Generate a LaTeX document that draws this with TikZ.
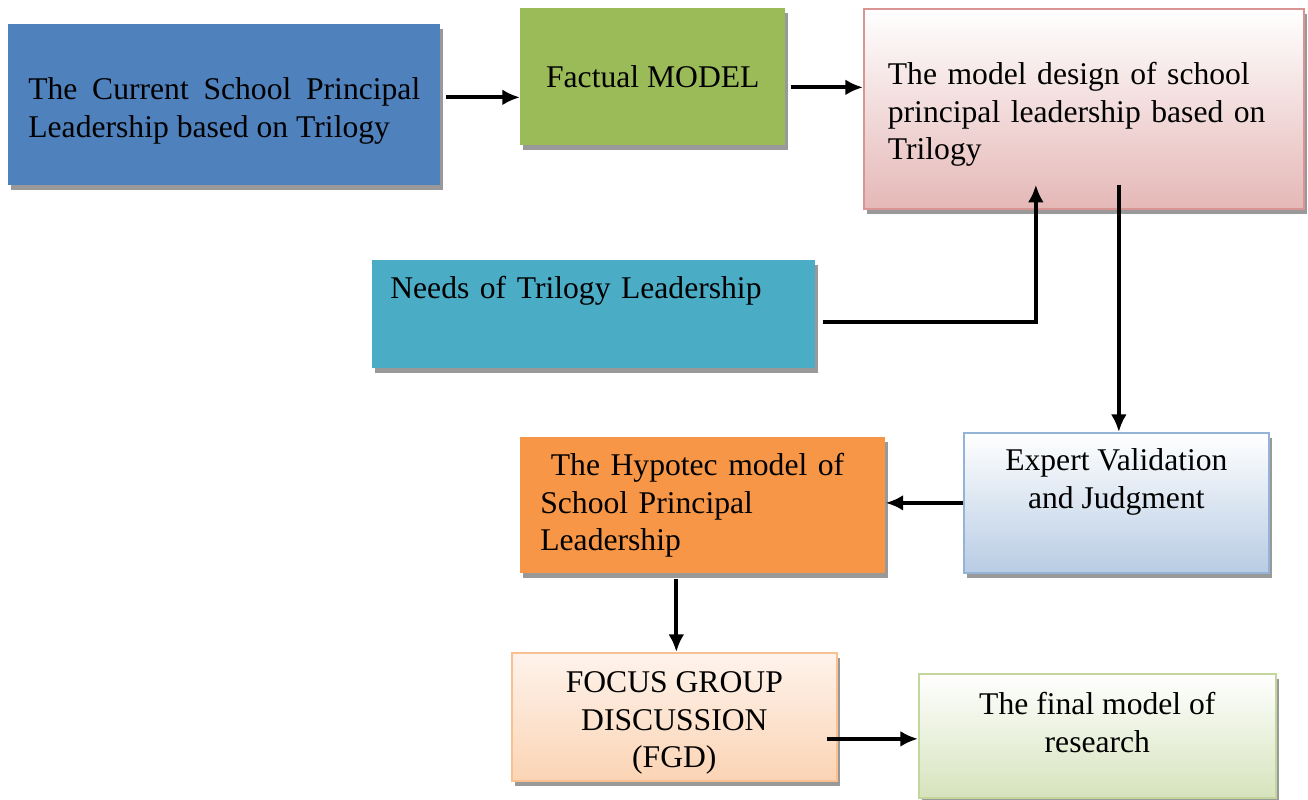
\documentclass[tikz,border=0pt]{standalone}
\usepackage{fontspec}
\setmainfont{Liberation Serif}
\usepackage{tikz}
\usetikzlibrary{arrows, arrows.meta, shadows, positioning}
\hyphenpenalty=10000
\exhyphenpenalty=10000
\definecolor{curblue}{HTML}{4F81BD}
\definecolor{factgreen}{HTML}{9BBB59}
\definecolor{needsteal}{HTML}{4BACC6}
\definecolor{hyporange}{HTML}{F79646}
\definecolor{designpink}{HTML}{E5B8B7}
\definecolor{designline}{HTML}{D99594}
\definecolor{expertblue}{HTML}{B8CCE4}
\definecolor{expertline}{HTML}{95B3D7}
\definecolor{focustop}{HTML}{FEF3EC}
\definecolor{focusbot}{HTML}{FBD4B4}
\definecolor{focusline}{HTML}{FAC090}
\definecolor{finalgreen}{HTML}{D6E3BC}
\definecolor{finalline}{HTML}{C3D69B}
\tikzstyle{block} = [rectangle, anchor=north west, inner ysep=3pt, font=\fontsize{18}{21.5}\selectfont, drop shadow={shadow xshift=0.06cm, shadow yshift=-0.1cm, opacity=1, fill=black!40}]
\tikzstyle{wire} = [-{Latex[length=10pt, width=9pt]}, line width=2.2pt]
\newcommand{\dropdown}[1]{\rule[-#1]{0pt}{#1}}
\newcommand{\liftup}[1]{\rule{0pt}{#1}}
\begin{document}
\begin{tikzpicture}[x=0.02cm, y=-0.02cm]
    \useasboundingbox (0,0) rectangle (1308,799);
    \node[block, fill=curblue, minimum width=8.64cm, minimum height=3.22cm, text width=7.84cm, align=justify] (cur) at (8,24) {\liftup{19pt}The Current School Principal Leadership based on Trilogy};
    \node[block, fill=factgreen, minimum width=5.3cm, minimum height=2.74cm, align=center] (fact) at (520,8) {Factual MODEL};
    \node[block, top color=white, bottom color=designpink, draw=designline, line width=1pt, minimum width=8.8cm, minimum height=4cm, text width=7.84cm, align=left] (design) at (863,8) {\liftup{19pt}The model design of school principal leadership based on Trilogy};
    \node[block, fill=needsteal, minimum width=8.86cm, minimum height=2.16cm, text width=8.14cm, align=left] (needs) at (372,260) {Needs of Trilogy Leadership\dropdown{31pt}};
    \node[block, top color=white, bottom color=expertblue, draw=expertline, line width=1pt, minimum width=6.1cm, minimum height=2.8cm, align=center] (expert) at (963,432) {Expert Validation\\and Judgment\dropdown{28pt}};
    \node[block, fill=hyporange, minimum width=7.3cm, minimum height=2.72cm, text width=6.5cm, align=left] (hyp) at (520,437) {~The Hypotec model of\\School Principal\\Leadership};
    \node[block, top color=focustop, bottom color=focusbot, draw=focusline, line width=1pt, minimum width=6.5cm, minimum height=2.56cm, align=center] (focus) at (511,652) {\liftup{19pt}FOCUS GROUP\\DISCUSSION\\(FGD)};
    \node[block, top color=white, bottom color=finalgreen, draw=finalline, line width=1pt, minimum width=7.14cm, minimum height=2.48cm, align=center] (final) at (918,673) {The final model of\\research\dropdown{15pt}};
    \draw[wire] ([xshift=0.1cm, yshift=0.15cm]cur.east) coordinate (a1) -- (a1 -| fact.west);
    \draw[wire] ([xshift=0.1cm, yshift=-0.21cm]fact.east) coordinate (a2) -- (a2 -| design.west);
    \draw[wire] ([xshift=0.14cm, yshift=-0.16cm]needs.east) -| ([xshift=-0.96cm, yshift=0.5cm]design.south);
    \draw[wire] ([xshift=0.7cm, yshift=0.5cm]design.south) coordinate (a4) -- (a4 |- expert.north);
    \draw[wire] (expert.west) -- (hyp.east |- expert.west);
    \draw[wire] ([xshift=-0.53cm, yshift=-0.1cm]hyp.south) coordinate (a6) -- (a6 |- focus.north);
    \draw[wire] ([xshift=-0.22cm, yshift=-0.44cm]focus.east) coordinate (a7) -- (a7 -| final.west);
  \end{tikzpicture}
\end{document}
